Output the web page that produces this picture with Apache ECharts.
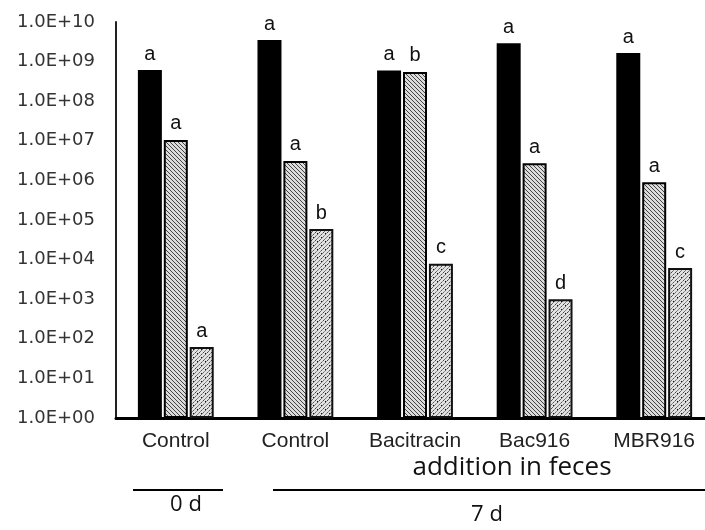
<!DOCTYPE html>
<html><head><meta charset="utf-8">
<script src="https://cdn.jsdelivr.net/npm/echarts@6/dist/echarts.min.js"></script>
<style>html,body{margin:0;padding:0;background:#fff}#c{width:705px;height:530px}</style>
</head><body><div id="c"></div>
<script>
const categories = ['Control', 'Control', 'Bacitracin', 'Bac916', 'MBR916'];
const series1 = [6.1e8, 3.5e9, 6.0e8, 2.9e9, 1.65e9];
const series2 = [1.05e7, 3.1e6, 5.5e8, 2.7e6, 9.0e5];
const series3 = [62, 5.9e4, 7.8e3, 1.0e3, 6.1e3];
const letters1 = ['a', 'a', 'a', 'a', 'a'];
const letters2 = ['a', 'a', 'b', 'a', 'a'];
const letters3 = ['a', 'b', 'c', 'd', 'c'];
const yMin = 1, yMax = 1e10;

function makePattern(kind) {
  const c = document.createElement('canvas');
  c.width = 8; c.height = 8;
  const g = c.getContext('2d');
  g.fillStyle = kind === 1 ? '#dcdcdc' : '#e2e2e2';
  g.fillRect(0, 0, 8, 8);
  g.strokeStyle = '#444';
  g.lineWidth = 1;
  if (kind === 1) {
    for (let k = -8; k <= 8; k += 4) {
      g.beginPath(); g.moveTo(k, 0); g.lineTo(k + 8, 8); g.stroke();
    }
  } else {
    g.setLineDash([2, 1]);
    for (let k = 0; k <= 16; k += 4) {
      g.beginPath(); g.moveTo(k, 0); g.lineTo(k - 8, 8); g.stroke();
    }
    g.fillStyle = '#111';
    g.fillRect(1, 5, 1, 1); g.fillRect(5, 1, 1, 1);
  }
  return { image: c, repeat: 'repeat' };
}

const chart = echarts.init(document.getElementById('c'));
const labelStyle = { show: true, position: 'top', distance: 6, color: '#111', fontFamily: 'Liberation Sans', fontSize: 20 };
function mk(data, letters, itemStyle) {
  return {
    type: 'bar', data: data, barWidth: 24, barGap: '8%', itemStyle: itemStyle,
    label: Object.assign({}, labelStyle, { formatter: p => letters[p.dataIndex] })
  };
}
chart.setOption({
  animation: false,
  grid: { left: 116, width: 598, top: 22, bottom: 112, containLabel: false, outerBoundsMode: 'none' },
  xAxis: {
    type: 'category', data: categories,
    axisLine: { lineStyle: { color: '#000', width: 3 } },
    axisTick: { show: false },
    axisLabel: { color: '#222', fontFamily: 'Liberation Sans', fontSize: 21, margin: 13, interval: 0, hideOverlap: false }
  },
  yAxis: {
    type: 'log', logBase: 10, min: yMin, max: yMax, interval: 1,
    axisLine: { show: true, lineStyle: { color: '#222', width: 2 } },
    axisTick: { show: false },
    splitLine: { show: false },
    axisLabel: {
      color: '#333', fontFamily: 'DejaVu Sans', fontSize: 18, margin: 21,
      formatter: v => '1.0E+' + String(Math.round(Math.log10(v))).padStart(2, '0')
    }
  },
  series: [
    mk(series1, letters1, { color: '#000' }),
    mk(series2, letters2, { color: makePattern(1), borderColor: '#000', borderWidth: 2 }),
    mk(series3, letters3, { color: makePattern(2), borderColor: '#111', borderWidth: 2 })
  ],
  graphic: [
    { type: 'text', x: 512, y: 468, style: { text: 'addition in feces', font: '26px "Open Sans"', fill: '#111', textAlign: 'center', textVerticalAlign: 'middle' } },
    { type: 'line', shape: { x1: 133, y1: 490, x2: 223, y2: 490 }, style: { stroke: '#000', lineWidth: 2 } },
    { type: 'line', shape: { x1: 273, y1: 490, x2: 705, y2: 490 }, style: { stroke: '#000', lineWidth: 2 } },
    { type: 'text', x: 186, y: 505, style: { text: '0 d', font: '22px "Open Sans"', fill: '#111', textAlign: 'center', textVerticalAlign: 'middle' } },
    { type: 'text', x: 487, y: 515, style: { text: '7 d', font: '22px "Open Sans"', fill: '#111', textAlign: 'center', textVerticalAlign: 'middle' } }
  ]
});
</script>
</body></html>
